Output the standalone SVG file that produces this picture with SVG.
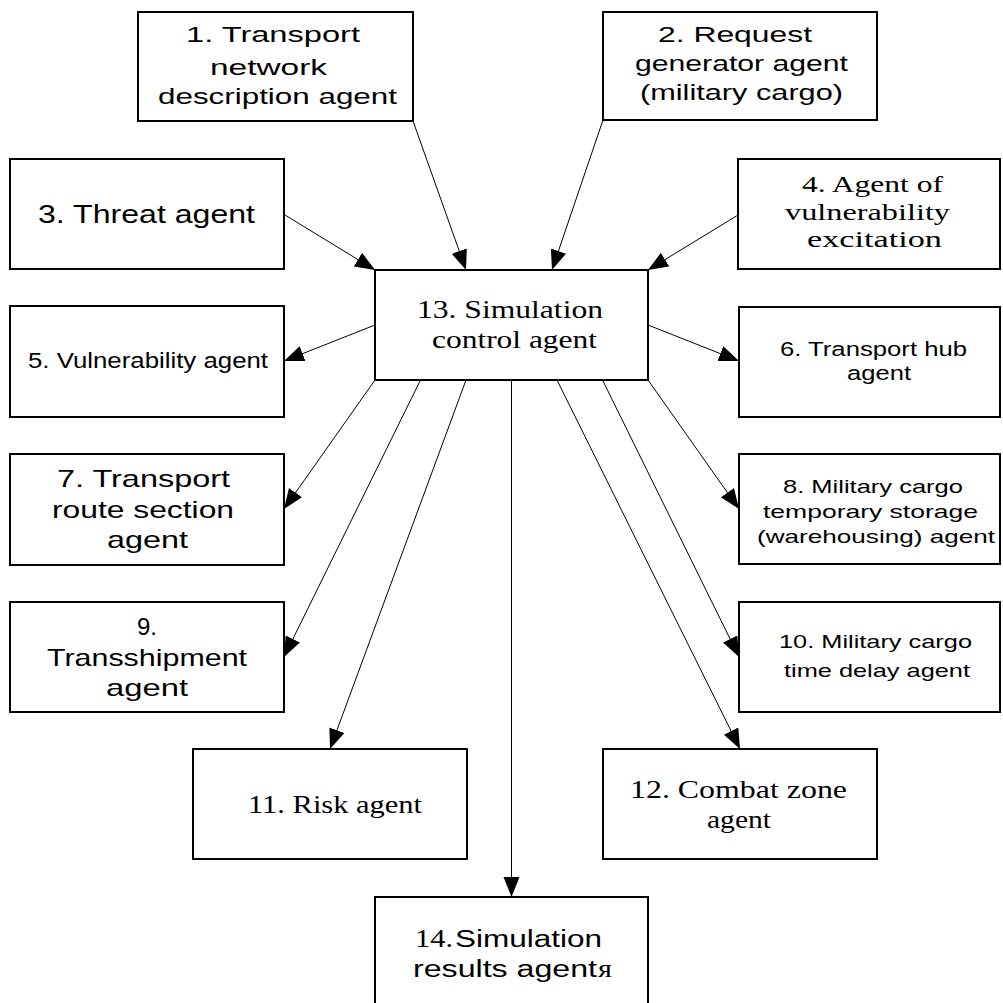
<svg xmlns="http://www.w3.org/2000/svg" width="1003" height="1003" viewBox="0 0 1003 1003">
<style>
.box{fill:#fff;stroke:#000;stroke-width:2}
.edge{stroke:#000;stroke-width:1;fill:none;marker-end:url(#ah)}
.s{font-family:"Liberation Sans",Arial,sans-serif;fill:#000}
.r{font-family:"Liberation Serif","Times New Roman",serif;fill:#000}
</style>
<defs>
<marker id="ah" markerUnits="userSpaceOnUse" markerWidth="22" markerHeight="18" refX="20" refY="8" orient="auto">
<path d="M0,0 L20,8 L0,16 z" fill="#000"/>
</marker>
</defs>
<rect width="1003" height="1003" fill="#fff"/>
<g id="connectors">
<line class="edge" x1="413" y1="121" x2="466" y2="270"/>
<line class="edge" x1="603" y1="120" x2="552" y2="270"/>
<line class="edge" x1="285" y1="215" x2="375" y2="270"/>
<line class="edge" x1="738" y1="215" x2="648" y2="270"/>
<line class="edge" x1="375" y1="325" x2="284" y2="361"/>
<line class="edge" x1="648" y1="325" x2="739" y2="361"/>
<line class="edge" x1="375" y1="380" x2="284" y2="509"/>
<line class="edge" x1="648" y1="380" x2="739" y2="509"/>
<line class="edge" x1="420.5" y1="380" x2="284" y2="657"/>
<line class="edge" x1="602.5" y1="380" x2="739" y2="657"/>
<line class="edge" x1="466" y1="380" x2="330" y2="749"/>
<line class="edge" x1="557" y1="380" x2="740" y2="749"/>
<line class="edge" x1="511.5" y1="380" x2="511.5" y2="897"/>
</g>
<g id="n1">
<rect class="box" x="138" y="12" width="275" height="109"/>
<text class="s" font-size="22" x="186" y="42" textLength="174" lengthAdjust="spacingAndGlyphs">1. Transport</text>
<text class="s" font-size="22" x="210" y="75" textLength="117" lengthAdjust="spacingAndGlyphs">network</text>
<text class="s" font-size="22" x="158" y="104" textLength="239" lengthAdjust="spacingAndGlyphs">description agent</text>
</g>
<g id="n2">
<rect class="box" x="603" y="12" width="274" height="108"/>
<text class="s" font-size="22" x="658" y="42" textLength="154" lengthAdjust="spacingAndGlyphs">2. Request</text>
<text class="s" font-size="22" x="635" y="71" textLength="213" lengthAdjust="spacingAndGlyphs">generator agent</text>
<text class="s" font-size="22" x="640" y="100" textLength="203" lengthAdjust="spacingAndGlyphs">(military cargo)</text>
</g>
<g id="n3">
<rect class="box" x="10" y="159" width="274" height="110"/>
<text class="s" font-size="25" x="38" y="223" textLength="217" lengthAdjust="spacingAndGlyphs">3. Threat agent</text>
</g>
<g id="n4">
<rect class="box" x="738" y="159" width="262" height="110"/>
<text class="r" font-size="24" x="802" y="192" textLength="141" lengthAdjust="spacingAndGlyphs">4. Agent of</text>
<text class="r" font-size="24" x="785" y="220" textLength="165" lengthAdjust="spacingAndGlyphs">vulnerability</text>
<text class="r" font-size="24" x="807" y="247" textLength="135" lengthAdjust="spacingAndGlyphs">excitation</text>
</g>
<g id="n13">
<rect class="box" x="375" y="270" width="273" height="110"/>
<text class="r" font-size="25" x="417" y="318" textLength="186" lengthAdjust="spacingAndGlyphs">13. Simulation</text>
<text class="r" font-size="25" x="432" y="348" textLength="165" lengthAdjust="spacingAndGlyphs">control agent</text>
</g>
<g id="n5">
<rect class="box" x="10" y="306" width="274" height="111"/>
<text class="s" font-size="22" x="28" y="368" textLength="240" lengthAdjust="spacingAndGlyphs">5. Vulnerability agent</text>
</g>
<g id="n6">
<rect class="box" x="739" y="307" width="261" height="110"/>
<text class="s" font-size="20" x="780" y="356" textLength="187" lengthAdjust="spacingAndGlyphs">6. Transport hub</text>
<text class="s" font-size="20" x="847" y="380" textLength="64" lengthAdjust="spacingAndGlyphs">agent</text>
</g>
<g id="n7">
<rect class="box" x="10" y="454" width="274" height="111"/>
<text class="s" font-size="24" x="57" y="487" textLength="173" lengthAdjust="spacingAndGlyphs">7. Transport</text>
<text class="s" font-size="24" x="52" y="518" textLength="182" lengthAdjust="spacingAndGlyphs">route section</text>
<text class="s" font-size="24" x="107" y="548" textLength="81" lengthAdjust="spacingAndGlyphs">agent</text>
</g>
<g id="n8">
<rect class="box" x="739" y="454" width="261" height="110"/>
<text class="s" font-size="19" x="783" y="493" textLength="180" lengthAdjust="spacingAndGlyphs">8. Military cargo</text>
<text class="s" font-size="19" x="763" y="518" textLength="215" lengthAdjust="spacingAndGlyphs">temporary storage</text>
<text class="s" font-size="19" x="757" y="543" textLength="238" lengthAdjust="spacingAndGlyphs">(warehousing) agent</text>
</g>
<g id="n9">
<rect class="box" x="10" y="602" width="274" height="110"/>
<text class="s" font-size="24" x="137" y="635" textLength="20" lengthAdjust="spacingAndGlyphs">9.</text>
<text class="s" font-size="24" x="47" y="666" textLength="200" lengthAdjust="spacingAndGlyphs">Transshipment</text>
<text class="s" font-size="24" x="106" y="696" textLength="82" lengthAdjust="spacingAndGlyphs">agent</text>
</g>
<g id="n10">
<rect class="box" x="739" y="602" width="261" height="110"/>
<text class="s" font-size="19" x="779" y="648" textLength="193" lengthAdjust="spacingAndGlyphs">10. Military cargo</text>
<text class="s" font-size="19" x="784" y="677" textLength="186" lengthAdjust="spacingAndGlyphs">time delay agent</text>
</g>
<g id="n11">
<rect class="box" x="193" y="749" width="274" height="110"/>
<text class="r" font-size="25" x="248" y="813" textLength="174" lengthAdjust="spacingAndGlyphs">11. Risk agent</text>
</g>
<g id="n12">
<rect class="box" x="603" y="749" width="274" height="110"/>
<text class="r" font-size="25" x="630" y="798" textLength="217" lengthAdjust="spacingAndGlyphs">12. Combat zone</text>
<text class="r" font-size="25" x="707" y="828" textLength="64" lengthAdjust="spacingAndGlyphs">agent</text>
</g>
<g id="n14">
<rect class="box" x="375" y="897" width="273" height="120"/>
<text class="r" font-size="25" x="415" y="947" textLength="38" lengthAdjust="spacingAndGlyphs">14.</text>
<text class="s" font-size="23" x="455" y="947" textLength="147" lengthAdjust="spacingAndGlyphs">Simulation</text>
<text class="s" font-size="23" x="413" y="977" textLength="184" lengthAdjust="spacingAndGlyphs">results agent</text>
<text class="r" font-size="25" x="598" y="977" textLength="14" lengthAdjust="spacingAndGlyphs">я</text>
</g>
</svg>
